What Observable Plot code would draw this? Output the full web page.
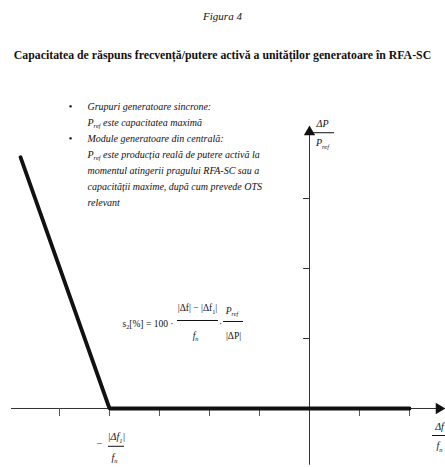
<!DOCTYPE html>
<html>
<head>
<meta charset="utf-8">
<script src="https://cdn.jsdelivr.net/npm/d3@7"></script>
<script src="https://cdn.jsdelivr.net/npm/@observablehq/plot@0.6"></script>
<style>
  html, body { margin: 0; padding: 0; background: #fff; }
  body { position: relative; width: 445px; height: 467px; overflow: hidden; font-family: "Liberation Serif", serif; color: #111; }
  #figno { position: absolute; top: 10px; left: 0; width: 445px; text-align: center; font-style: italic; font-size: 11px; }
  #title { position: absolute; top: 48px; left: 0; width: 445px; text-align: center; font-weight: bold; font-size: 11.8px; white-space: nowrap; }
  #chart { position: absolute; top: 70px; left: 0; }
  #chart svg, #chart svg text, #chart svg tspan { font-family: "Liberation Serif", serif; }
</style>
</head>
<body>
<div id="figno">Figura 4</div>
<div id="title">Capacitatea de răspuns frecvență/putere activă a unităților generatoare în RFA-SC</div>
<div id="chart"></div>
<script>
// Frequency deviation axis (Δf/fn), tick positions
const xTicks = [-5, -4, -3, -2, -1, 1, 2];
// Power axis (ΔP/Pref), tick positions
const yTicks = [1, 2, 3];
// Response characteristic: droop segment below the threshold, flat above it
const droopX = [-5.78, -4, 2];
const droopY = [3.59, 0, 0];
// Threshold −|Δf1|/fn
const threshold = -4;
// Notes beside the chart (bullet = new group)
const notes = [
  "Grupuri generatoare sincrone:",
  "P_{ref} este capacitatea maximă",
  "Module generatoare din centrală:",
  "P_{ref} este producția reală de putere activă la",
  "momentul atingerii pragului RFA-SC sau a",
  "capacității maxime, după cum prevede OTS",
  "relevant"
];
const bulletRows = [0, 2];

const droop = droopX.map((x, i) => ({x, y: droopY[i]}));
const noteRows = notes.map((text, i) => ({text, i}));

const serif = "Liberation Serif";
const ink = "#111";
const txt = (o) => ({fontFamily: serif, fill: ink, ...o});
const bar = (o) => ({stroke: ink, strokeWidth: 1, ...o});

const chart = Plot.plot({
  width: 445,
  height: 397,
  margin: 0,
  x: {domain: [-6.18, 2.72], axis: null},
  y: {domain: [-0.843, 4.829], axis: null},
  style: {fontFamily: serif, background: "transparent", color: ink},
  marks: [
    // axes
    Plot.ruleY([0], {x1: -5.96, x2: 2.6, stroke: "#333", strokeWidth: 1}),
    Plot.ruleX([0], {y1: -0.81, y2: 3.9, stroke: "#333", strokeWidth: 1}),
    Plot.dot([{x: 2.59, y: 0}], {x: "x", y: "y", symbol: "triangle", rotate: 90, r: 4.2, fill: ink, stroke: null}),
    Plot.dot([{x: 0, y: 3.95}], {x: "x", y: "y", symbol: "triangle", rotate: 0, r: 4.2, fill: ink, stroke: null}),
    // ticks
    Plot.ruleX(xTicks, {y1: 0, y2: -0.115, stroke: "#555", strokeWidth: 1}),
    Plot.ruleY(yTicks, {x1: -0.12, x2: 0, stroke: "#333", strokeWidth: 1}),
    // characteristic
    Plot.line(droop, {x: "x", y: "y", stroke: ink, strokeWidth: 3.8, strokeLinejoin: "miter"}),

    // axis labels: ΔP / Pref
    Plot.text(["ΔP"], txt({x: 0.26, y: 4.07, fontSize: 10, fontStyle: "italic"})),
    Plot.ruleY([3.94], bar({x1: 0.08, x2: 0.5})),
    Plot.text(["P_{ref}"], txt({x: 0.26, y: 3.79, fontSize: 10, fontStyle: "italic"})),
    // Δf / fn
    Plot.text(["Δf"], txt({x: 2.6, y: -0.26, fontSize: 10, fontStyle: "italic"})),
    Plot.ruleY([-0.386], bar({x1: 2.46, x2: 2.74})),
    Plot.text(["f_{n}"], txt({x: 2.6, y: -0.54, fontSize: 10, fontStyle: "italic"})),
    // threshold label −|Δf1| / fn
    Plot.text(["−"], txt({x: threshold - 0.2, y: -0.5, fontSize: 10})),
    Plot.text(["|Δf_{1}|"], txt({x: threshold + 0.14, y: -0.41, fontSize: 10, fontStyle: "italic"})),
    Plot.ruleY([-0.54], bar({x1: threshold - 0.02, x2: threshold + 0.3})),
    Plot.text(["f_{n}"], txt({x: threshold + 0.1, y: -0.7, fontSize: 10, fontStyle: "italic"})),

    // droop formula
    Plot.text(["s_{2}[%] = 100 ·"], txt({x: -3.74, y: 1.21, textAnchor: "start", fontSize: 9.5})),
    Plot.text(["|Δf| − |Δf_{1}|"], txt({x: -2.24, y: 1.43, fontSize: 9.5})),
    Plot.ruleY([1.257], bar({x1: -2.64, x2: -1.82})),
    Plot.text(["f_{n}"], txt({x: -2.28, y: 1.04, fontSize: 9.5, fontStyle: "italic"})),
    Plot.text(["·"], txt({x: -1.78, y: 1.21, fontSize: 9.5})),
    Plot.text(["P_{ref}"], txt({x: -1.55, y: 1.4, fontSize: 9.5, fontStyle: "italic"})),
    Plot.ruleY([1.243], bar({x1: -1.72, x2: -1.32})),
    Plot.text(["|ΔP|"], txt({x: -1.52, y: 1.03, fontSize: 9.5})),

    // notes
    Plot.text(noteRows, txt({x: -4.44, y: d => 4.314 - d.i * 0.229, text: "text", textAnchor: "start", fontSize: 10, fontStyle: "italic"})),
    Plot.text(noteRows.filter(d => bulletRows.includes(d.i)), txt({x: -4.78, y: d => 4.314 - d.i * 0.229, text: () => "•", fontSize: 10}))
  ]
});

// Turn _{...} markup into subscript tspans
chart.querySelectorAll("text").forEach(t => {
  const s = t.textContent;
  if (!s.includes("_{")) return;
  t.textContent = "";
  const re = /_\{([^}]*)\}/g;
  let last = 0, m, lowered = false;
  const add = (str, sub) => {
    if (!str) return;
    const span = document.createElementNS("http://www.w3.org/2000/svg", "tspan");
    span.textContent = str;
    if (sub) { span.setAttribute("dy", "2.5"); span.setAttribute("font-size", "65%"); lowered = true; }
    else if (lowered) { span.setAttribute("dy", "-2.5"); lowered = false; }
    t.appendChild(span);
  };
  while ((m = re.exec(s))) {
    add(s.slice(last, m.index), false);
    add(m[1], true);
    last = re.lastIndex;
  }
  add(s.slice(last), false);
});

document.getElementById("chart").appendChild(chart);
</script>
</body>
</html>
